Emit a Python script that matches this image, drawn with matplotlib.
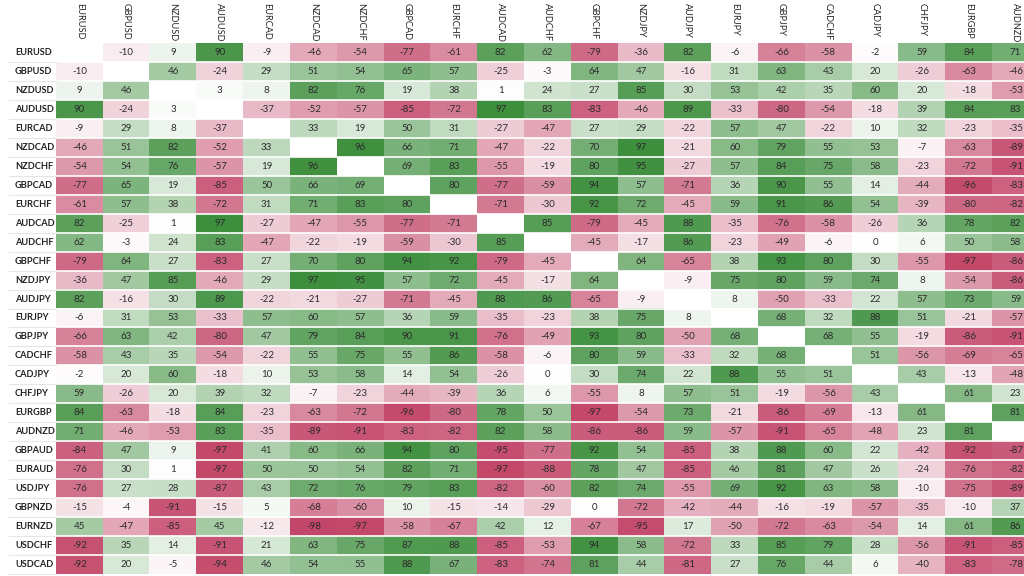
import numpy as np
import matplotlib
matplotlib.use('Agg')
import matplotlib.pyplot as plt
from matplotlib.colors import LinearSegmentedColormap

plt.rcParams['font.family'] = ['Lato', 'DejaVu Sans']

### data

pairs_cols = ['EURUSD', 'GBPUSD', 'NZDUSD', 'AUDUSD', 'EURCAD', 'NZDCAD', 'NZDCHF',
              'GBPCAD', 'EURCHF', 'AUDCAD', 'AUDCHF', 'GBPCHF', 'NZDJPY', 'AUDJPY',
              'EURJPY', 'GBPJPY', 'CADCHF', 'CADJPY', 'CHFJPY', 'EURGBP', 'AUDNZD']

pairs_rows = ['EURUSD', 'GBPUSD', 'NZDUSD', 'AUDUSD', 'EURCAD', 'NZDCAD', 'NZDCHF',
              'GBPCAD', 'EURCHF', 'AUDCAD', 'AUDCHF', 'GBPCHF', 'NZDJPY', 'AUDJPY',
              'EURJPY', 'GBPJPY', 'CADCHF', 'CADJPY', 'CHFJPY', 'EURGBP', 'AUDNZD',
              'GBPAUD', 'EURAUD', 'USDJPY', 'GBPNZD', 'EURNZD', 'USDCHF', 'USDCAD']

# correlation in %, None = same pair
corr = [
    [None, -10, 9, 90, -9, -46, -54, -77, -61, 82, 62, -79, -36, 82, -6, -66, -58, -2, 59, 84, 71],
    [-10, None, 46, -24, 29, 51, 54, 65, 57, -25, -3, 64, 47, -16, 31, 63, 43, 20, -26, -63, -46],
    [9, 46, None, 3, 8, 82, 76, 19, 38, 1, 24, 27, 85, 30, 53, 42, 35, 60, 20, -18, -53],
    [90, -24, 3, None, -37, -52, -57, -85, -72, 97, 83, -83, -46, 89, -33, -80, -54, -18, 39, 84, 83],
    [-9, 29, 8, -37, None, 33, 19, 50, 31, -27, -47, 27, 29, -22, 57, 47, -22, 10, 32, -23, -35],
    [-46, 51, 82, -52, 33, None, 96, 66, 71, -47, -22, 70, 97, -21, 60, 79, 55, 53, -7, -63, -89],
    [-54, 54, 76, -57, 19, 96, None, 69, 83, -55, -19, 80, 95, -27, 57, 84, 75, 58, -23, -72, -91],
    [-77, 65, 19, -85, 50, 66, 69, None, 80, -77, -59, 94, 57, -71, 36, 90, 55, 14, -44, -96, -83],
    [-61, 57, 38, -72, 31, 71, 83, 80, None, -71, -30, 92, 72, -45, 59, 91, 86, 54, -39, -80, -82],
    [82, -25, 1, 97, -27, -47, -55, -77, -71, None, 85, -79, -45, 88, -35, -76, -58, -26, 36, 78, 82],
    [62, -3, 24, 83, -47, -22, -19, -59, -30, 85, None, -45, -17, 86, -23, -49, -6, 0, 6, 50, 58],
    [-79, 64, 27, -83, 27, 70, 80, 94, 92, -79, -45, None, 64, -65, 38, 93, 80, 30, -55, -97, -86],
    [-36, 47, 85, -46, 29, 97, 95, 57, 72, -45, -17, 64, None, -9, 75, 80, 59, 74, 8, -54, -86],
    [82, -16, 30, 89, -22, -21, -27, -71, -45, 88, 86, -65, -9, None, 8, -50, -33, 22, 57, 73, 59],
    [-6, 31, 53, -33, 57, 60, 57, 36, 59, -35, -23, 38, 75, 8, None, 68, 32, 88, 51, -21, -57],
    [-66, 63, 42, -80, 47, 79, 84, 90, 91, -76, -49, 93, 80, -50, 68, None, 68, 55, -19, -86, -91],
    [-58, 43, 35, -54, -22, 55, 75, 55, 86, -58, -6, 80, 59, -33, 32, 68, None, 51, -56, -69, -65],
    [-2, 20, 60, -18, 10, 53, 58, 14, 54, -26, 0, 30, 74, 22, 88, 55, 51, None, 43, -13, -48],
    [59, -26, 20, 39, 32, -7, -23, -44, -39, 36, 6, -55, 8, 57, 51, -19, -56, 43, None, 61, 23],
    [84, -63, -18, 84, -23, -63, -72, -96, -80, 78, 50, -97, -54, 73, -21, -86, -69, -13, 61, None, 81],
    [71, -46, -53, 83, -35, -89, -91, -83, -82, 82, 58, -86, -86, 59, -57, -91, -65, -48, 23, 81, None],
    [-84, 47, 9, -97, 41, 60, 66, 94, 80, -95, -77, 92, 54, -85, 38, 88, 60, 22, -42, -92, -87],
    [-76, 30, 1, -97, 50, 50, 54, 82, 71, -97, -88, 78, 47, -85, 46, 81, 47, 26, -24, -76, -82],
    [-76, 27, 28, -87, 43, 72, 76, 79, 83, -82, -60, 82, 74, -55, 69, 92, 63, 58, -10, -75, -89],
    [-15, -4, -91, -15, 5, -68, -60, 10, -15, -14, -29, 0, -72, -42, -44, -16, -19, -57, -35, -10, 37],
    [45, -47, -85, 45, -12, -98, -97, -58, -67, 42, 12, -67, -95, 17, -50, -72, -63, -54, 14, 61, 86],
    [-92, 35, 14, -91, 21, 63, 75, 87, 88, -85, -53, 94, 58, -72, 33, 85, 79, 28, -56, -91, -85],
    [-92, 20, -5, -94, 46, 54, 55, 88, 67, -83, -74, 81, 44, -81, 27, 76, 44, 6, -40, -83, -78],
]

### plot

vals = np.array([[np.nan if v is None else v for v in row] for row in corr], dtype=float)
cmap = LinearSegmentedColormap.from_list('rg', ['#c24467', '#ffffff', '#398c39'])
cmap.set_bad('white')

fig = plt.figure(figsize=(10.24, 5.76), dpi=100)
# table is cropped on the right and bottom, like the screenshot
ax = fig.add_axes([56/1024, 2/576, 983/1024, 531/576])
ax.imshow(vals, cmap=cmap, vmin=-100, vmax=100, aspect='auto', interpolation='nearest')

n_rows, n_cols = vals.shape
for i in range(n_rows):
    for j in range(n_cols):
        if not np.isnan(vals[i, j]):
            ax.text(j, i, f"{int(vals[i, j])}", ha='center', va='center',
                    fontsize=7, color='#2b2b2b')

# white row separators
for i in range(n_rows - 1):
    ax.axhline(i + 0.5, color='white', lw=1.2)

ax.set_xlim(-0.5, n_cols - 0.5)
ax.set_ylim(n_rows - 0.5, -0.5)
ax.set_xticks([])
ax.set_yticks([])
for s in ax.spines.values():
    s.set_visible(False)

# column headers, rotated
for j, name in enumerate(pairs_cols):
    ax.annotate(name, xy=(j, 1), xycoords=('data', 'axes fraction'),
                xytext=(0, 28.5), textcoords='offset points', rotation=270,
                ha='center', va='top', fontsize=6.6, color='#222222')

# row labels + faint separators
for i, name in enumerate(pairs_rows):
    ax.annotate(name, xy=(0, i), xycoords=('axes fraction', 'data'),
                xytext=(-29.5, 0), textcoords='offset points',
                ha='left', va='center', fontsize=6.7, fontweight='bold', color='#222222')
    ax.plot([-0.048, 0], [i + 0.5, i + 0.5], transform=ax.get_yaxis_transform(),
            color='#e6e6e6', lw=0.8, clip_on=False)

fig.savefig('out.png', dpi=100)
